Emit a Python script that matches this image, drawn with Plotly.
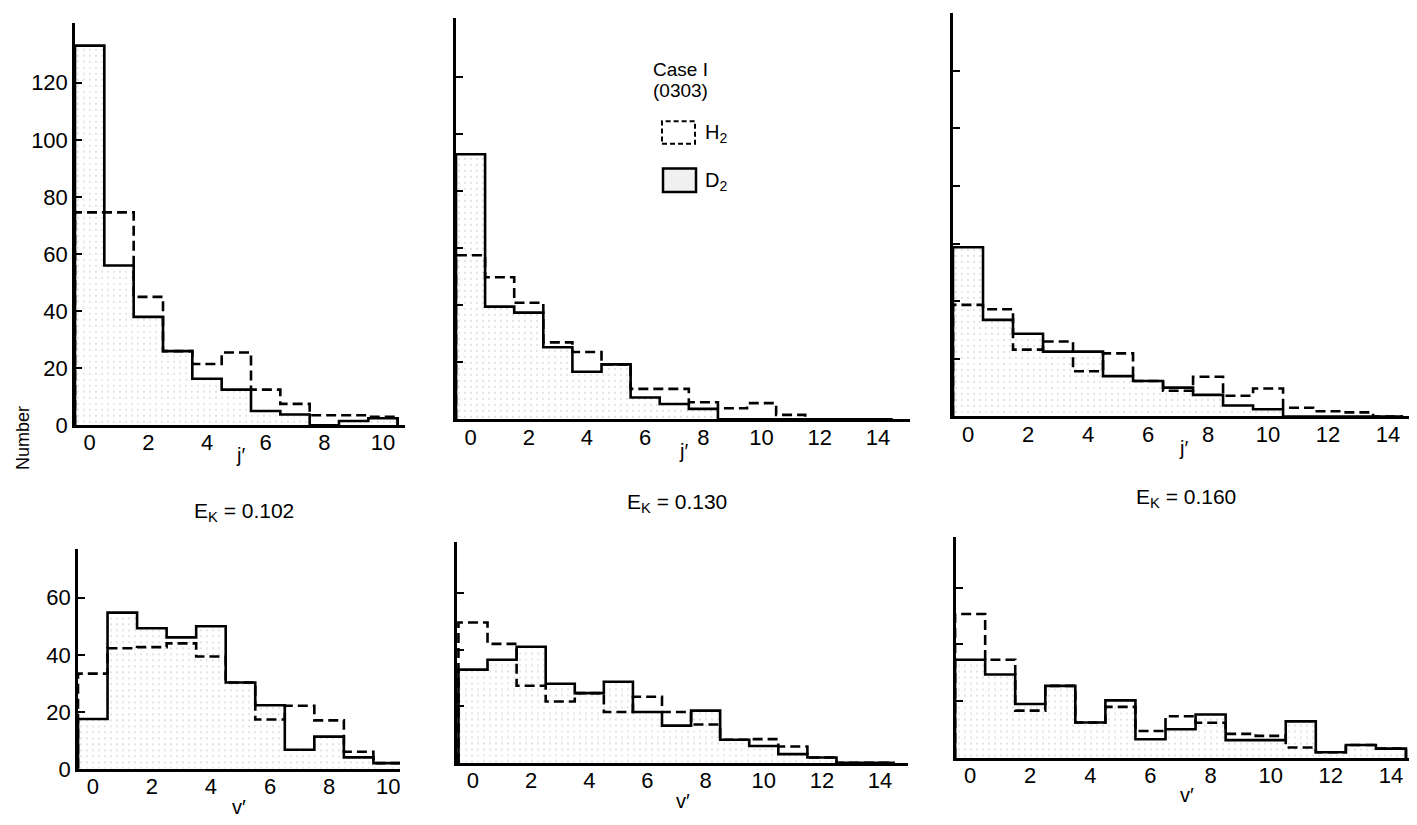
import plotly.graph_objects as go

# ---------------- data ----------------
j_102 = list(range(11))
d2_j_102 = [133, 56, 38, 26, 16.3, 12.5, 5, 3.8, 0, 1.5, 2.5]
h2_j_102 = [74.6, 74.6, 45, 26, 21.5, 25.5, 12.5, 7.5, 3.5, 3.5, 3]

j_130 = list(range(15))
d2_j_130 = [92.9, 39.5, 37.4, 25.3, 16.7, 19.3, 7.7, 5.4, 3.7, 0, 0, 0, 0, 0, 0]
h2_j_130 = [57.5, 49.8, 40.9, 27, 23.6, 19.3, 10.7, 10.7, 6, 3.9, 5.7, 1.6, 0, 0, 0]

j_160 = list(range(15))
d2_j_160 = [58.7, 33.5, 28.7, 22.5, 22.5, 14, 12.3, 10, 7.5, 3.8, 2.5, 0, 0, 0, 0]
h2_j_160 = [38.7, 37.2, 23.2, 26, 15.7, 21.9, 12.3, 8.9, 13.8, 7.2, 9.7, 3, 1.8, 1.4, 0]

v_102 = list(range(11))
d2_v_102 = [17.5, 54.8, 49.3, 46.1, 50, 30.3, 22.3, 6.7, 11.3, 4, 2]
h2_v_102 = [33.4, 42.3, 42.7, 44, 39.4, 30.3, 17.3, 22.1, 17, 6, 2]

v_130 = list(range(15))
d2_v_130 = [33, 36.5, 41.1, 28, 24.7, 28.7, 18, 13.2, 18.5, 8.2, 6, 3.1, 1.9, 0, 0]
h2_v_130 = [49.7, 42.1, 27.3, 21.7, 24.7, 18, 23.4, 18, 13.6, 8.2, 8.4, 5.8, 1.9, 0, 0]

v_160 = list(range(15))
d2_v_160 = [34.6, 29.4, 19, 25.4, 12.5, 20.3, 6.6, 10.1, 15.3, 6.3, 6.3, 12.9, 2, 4.6, 3.3]
h2_v_160 = [50.7, 34.6, 16.7, 25.4, 12.5, 18, 9.5, 14.7, 12.4, 8.5, 7.8, 3.7, 2, 4.6, 3.3]

energies = ["0.102", "0.130", "0.160"]
top_ticks = [0, 20, 40, 60, 80, 100, 120]
bottom_ticks = [0, 20, 40, 60]

W, H = 1417, 825
FONT = "Liberation Sans"
TICK_SIZE = 22

# panel geometry in pixels
panels = [
    dict(x=j_102, d2=d2_j_102, h2=h2_j_102, px=(67, 397), py=(15, 424), xr=[-0.5, 10.75], yr=[0, 141],
         xt=list(range(0, 11, 2)), yt=top_ticks, ylab=True, xl="j\u2032", lo=30),
    dict(x=j_130, d2=d2_j_130, h2=h2_j_130, px=(448, 902), py=(10, 418), xr=[-0.5, 15.1], yr=[0, 140.7],
         xt=list(range(0, 15, 2)), yt=top_ticks, ylab=False, xl="j\u2032", lo=32),
    dict(x=j_160, d2=d2_j_160, h2=h2_j_160, px=(945, 1405), py=(5, 415), xr=[-0.5, 14.83], yr=[0, 140],
         xt=list(range(0, 15, 2)), yt=top_ticks, ylab=False, xl="j\u2032", lo=32),
    dict(x=v_102, d2=d2_v_102, h2=h2_v_102, px=(70, 392), py=(550, 773), xr=[-0.5, 10.4], yr=[0, 77],
         xt=list(range(0, 11, 2)), yt=bottom_ticks, ylab=True, xl="v\u2032", lo=39),
    dict(x=v_130, d2=d2_v_130, h2=h2_v_130, px=(449, 900), py=(543, 767), xr=[-0.55, 14.96], yr=[0, 78],
         xt=list(range(0, 15, 2)), yt=bottom_ticks, ylab=False, xl="v\u2032", lo=39),
    dict(x=v_160, d2=d2_v_160, h2=h2_v_160, px=(948, 1410), py=(537, 762), xr=[-0.47, 14.9], yr=[0, 78],
         xt=list(range(0, 15, 2)), yt=bottom_ticks, ylab=False, xl="v\u2032", lo=38),
]


def step_xy(xs, vals):
    edges = [xs[0] - 0.5] + [x + 0.5 for x in xs]
    sx = [edges[0]] + edges
    sy = [0] + list(vals) + [0]
    return sx, sy


fig = go.Figure()
layout = dict(width=W, height=H, margin=dict(l=0, r=0, t=0, b=0),
              plot_bgcolor="white", paper_bgcolor="white", showlegend=False,
              font=dict(family=FONT, color="black", size=TICK_SIZE))
annotations = []

for i, p in enumerate(panels):
    n = "" if i == 0 else str(i + 1)
    xa, ya = "x" + n, "y" + n
    fig.add_trace(go.Bar(x=p["x"], y=p["d2"], width=1, xaxis=xa, yaxis=ya,
                         marker=dict(color="white", line=dict(width=0),
                                     pattern=dict(shape=".", fgcolor="#b4b4b4", bgcolor="white",
                                                  size=6, solidity=0.08)),
                         hoverinfo="skip"))
    hx, hy = step_xy(p["x"], p["h2"])
    fig.add_trace(go.Scatter(x=hx, y=hy, mode="lines", line_shape="hv", xaxis=xa, yaxis=ya,
                             line=dict(color="black", width=2.6, dash="10px,5px")))
    dx, dy = step_xy(p["x"], p["d2"])
    fig.add_trace(go.Scatter(x=dx, y=dy, mode="lines", line_shape="hv", xaxis=xa, yaxis=ya,
                             line=dict(color="black", width=2.6)))

    l, r = p["px"]
    t, b = p["py"]
    layout["xaxis" + n] = dict(domain=[l / W, r / W], range=p["xr"], anchor=ya,
                               showline=True, linecolor="black", linewidth=2.5,
                               showgrid=False, zeroline=False, ticks="",
                               tickvals=p["xt"], tickfont=dict(size=TICK_SIZE, family=FONT),
                               ticklabelstandoff=-4, fixedrange=True)
    layout["yaxis" + n] = dict(domain=[1 - b / H, 1 - t / H], range=p["yr"], anchor=xa,
                               showline=True, linecolor="black", linewidth=2.5,
                               showgrid=False, zeroline=False, ticks="inside", ticklen=7,
                               tickwidth=2, tickcolor="black",
                               tickvals=p["yt"] if p["ylab"] else p["yt"][1:],
                               showticklabels=p["ylab"], tickfont=dict(size=TICK_SIZE, family=FONT),
                               fixedrange=True)
    annotations.append(dict(x=(l + r) / 2 / W, y=1 - (b + p["lo"]) / H, xref="paper", yref="paper",
                            text=p["xl"], showarrow=False, xanchor="center", yanchor="middle",
                            font=dict(size=20, family=FONT)))

# energy labels
for e, cx, cy in zip(energies, [236, 669, 1178], [512, 503, 498]):
    annotations.append(dict(x=cx / W, y=1 - cy / H, xref="paper", yref="paper",
                            text="E<sub>K</sub> = " + e, showarrow=False,
                            xanchor="center", yanchor="middle", font=dict(size=21, family=FONT)))

# y title
annotations.append(dict(x=15 / W, y=1 - 437 / H, xref="paper", yref="paper", text="Number",
                        textangle=-90, showarrow=False, xanchor="center", yanchor="middle",
                        font=dict(size=18, family=FONT)))

# legend text
annotations.append(dict(x=643 / W, y=1 - 62 / H, xref="paper", yref="paper", text="Case I",
                        showarrow=False, xanchor="left", yanchor="middle",
                        font=dict(size=19, family=FONT)))
annotations.append(dict(x=643 / W, y=1 - 84 / H, xref="paper", yref="paper", text="(0303)",
                        showarrow=False, xanchor="left", yanchor="middle",
                        font=dict(size=19, family=FONT)))
annotations.append(dict(x=695 / W, y=1 - 128 / H, xref="paper", yref="paper", text="H<sub>2</sub>",
                        showarrow=False, xanchor="left", yanchor="middle",
                        font=dict(size=20, family=FONT)))
annotations.append(dict(x=695 / W, y=1 - 176 / H, xref="paper", yref="paper", text="D<sub>2</sub>",
                        showarrow=False, xanchor="left", yanchor="middle",
                        font=dict(size=20, family=FONT)))

shapes = [
    dict(type="rect", xref="paper", yref="paper", x0=654 / W, x1=687 / W, y0=1 - 138 / H, y1=1 - 115 / H,
         line=dict(color="black", width=2, dash="5px,3px"), fillcolor="rgba(0,0,0,0)"),
    dict(type="rect", xref="paper", yref="paper", x0=655 / W, x1=688 / W, y0=1 - 187 / H, y1=1 - 163 / H,
         line=dict(color="black", width=2.5), fillcolor="#f0f0f0"),
]

layout["annotations"] = annotations
layout["shapes"] = shapes
fig.update_layout(**layout)
fig.write_html("out.html")
